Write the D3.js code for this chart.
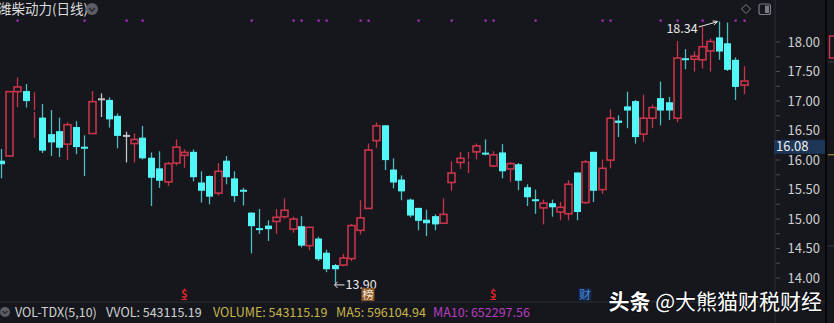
<!DOCTYPE html>
<html><head><meta charset="utf-8">
<script src="https://cdn.jsdelivr.net/npm/d3@7/dist/d3.min.js"></script>
<style>
html,body{margin:0;padding:0;background:#15171d;overflow:hidden;}
svg{display:block;}
text{font-family:"Noto Sans CJK SC","Noto Sans",sans-serif;}
</style></head>
<body>
<svg id="chart" width="834" height="323"></svg>
<script>
const title = "潍柴动力(日线)";
const openP = [15.98,16.06,17.15,17.16,16.81,16.71,16.43,16.48,16.26,16.55,
16.21,16.44,17.02,17.01,16.74,16.40,16.27,16.37,16.03,15.85,
15.62,15.94,16.07,16.13,15.61,15.72,15.43,15.98,15.68,15.48,
15.10,14.83,14.88,14.95,15.03,14.82,14.87,14.54,14.66,14.42,
14.21,14.21,14.32,14.80,15.17,16.32,16.58,15.83,15.66,15.32,
15.18,14.98,15.04,14.92,15.61,15.95,15.98,16.13,16.11,15.89,
16.12,15.84,15.92,15.53,15.32,15.18,15.26,15.11,15.08,15.78,
15.27,16.13,15.49,15.99,16.66,16.90,16.99,16.43,16.70,17.04,
16.97,16.70,17.71,17.70,17.69,17.84,18.07,17.97,17.69,17.26];
const closeP = [15.92,17.15,17.23,16.99,16.83,16.15,16.29,16.20,16.59,16.21,
16.19,16.98,17.02,16.68,16.40,16.40,16.34,16.02,15.69,15.64,
15.93,16.21,16.12,15.70,15.47,15.37,15.80,15.70,15.38,15.46,
14.87,14.81,14.82,15.02,15.14,14.99,14.54,14.85,14.31,14.14,
14.14,14.33,14.88,15.01,16.16,16.57,15.99,15.61,15.46,15.05,
14.96,14.92,14.90,15.07,15.77,16.02,16.00,16.23,16.09,16.08,
15.80,15.93,15.64,15.36,15.30,15.26,15.19,15.19,15.58,15.11,
15.96,15.47,15.85,16.70,16.62,16.83,16.38,16.70,16.88,16.83,
16.83,17.72,17.69,17.75,17.91,18.00,17.83,17.52,17.23,17.33];
const highP = [16.18,17.16,17.39,17.28,17.14,16.94,16.84,16.71,16.63,16.65,
16.41,17.16,17.12,17.05,16.78,16.47,16.44,16.57,16.12,16.14,
15.96,16.34,16.17,16.17,15.80,15.73,15.94,16.06,15.80,15.52,
15.10,15.16,14.97,15.16,15.34,15.03,15.04,14.86,14.69,14.47,
14.23,14.40,14.91,15.31,16.27,16.63,16.58,16.02,15.73,15.34,
15.18,15.15,15.07,15.34,15.97,16.13,16.13,16.27,16.34,16.14,
16.26,15.96,15.94,15.58,15.49,15.32,15.32,15.28,15.65,15.78,
15.99,16.13,16.00,16.85,16.75,17.15,17.01,17.10,16.93,17.32,
17.06,18.01,17.87,17.83,18.25,18.05,18.34,18.32,17.73,17.58];
const lowP = [15.68,16.05,16.89,16.88,16.37,16.11,16.06,16.04,15.99,16.09,
15.72,16.43,16.72,16.54,16.19,15.95,15.95,16.00,15.21,15.52,
15.55,15.90,15.86,15.63,15.27,15.24,15.39,15.58,15.28,15.22,
14.41,14.74,14.62,14.74,15.00,14.76,14.51,14.46,14.28,14.09,
13.90,14.19,14.28,14.73,15.16,16.20,15.82,15.51,15.31,15.02,
14.80,14.70,14.80,14.91,15.47,15.84,15.77,16.00,16.07,15.87,
15.68,15.62,15.48,15.21,15.08,14.90,15.03,14.97,14.97,14.97,
15.25,15.28,15.42,15.85,16.38,16.53,16.27,16.30,16.53,16.58,
16.67,16.63,17.53,17.49,17.54,17.49,17.69,17.50,17.01,17.11];
const signalDots = [2,10,15,17,30,35,36,38,39,43,44,50,54,58,59,64,72,73,79,81,84,88,89];
const tickVals = [14,14.25,14.5,14.75,15,15.25,15.5,15.75,16,16.25,16.5,16.75,17,17.25,17.5,17.75,18];
const currentPrice = 16.08;
const highIdx = 86, lowIdx = 40;
const dollarIdx = [22, 59];
const bangIdx = 44;
const caiIdx = 70;
const volLabels = [
  {t:"VOL-TDX(5,10)", c:"#d2d2d2"},
  {t:"VVOL: 543115.19", c:"#d2d2d2"},
  {t:"VOLUME: 543115.19", c:"#c9b44a"},
  {t:"MA5: 596104.94", c:"#c9b44a"},
  {t:"MA10: 652297.56", c:"#b83cc0"}
];
const volX = [15,106,213,336,433];
const watermarkBold = "头条";
const watermarkRest = " @大熊猫财税财经";

const BG = "#15171d", RED = "#c8344a", CYAN = "#52f6f6", CYANW = "#4cbcc2", GRAY = "#c4c4c4";
const svg = d3.select("#chart");
svg.append("rect").attr("width",834).attr("height",323).attr("fill",BG);

const n = openP.length;
const x = d3.scaleLinear().domain([0, n-1]).range([0.5, 743.7]);
const y = d3.scaleLinear().domain([14, 18]).range([277.5, 41.5]);
const bw = 7;

const data = d3.range(n).map(i => ({i, o:openP[i], c:closeP[i], h:highP[i], l:lowP[i]}));
const col = d => d.c > d.o ? RED : (d.c < d.o ? CYAN : GRAY);
const wcol = d => d.c > d.o ? RED : (d.c < d.o ? CYANW : GRAY);

const plot = svg.append("g").attr("clip-path","url(#clipP)");
svg.append("clipPath").attr("id","clipP").append("rect").attr("x",0).attr("y",0).attr("width",774).attr("height",300);

// wicks
plot.selectAll("line.wick").data(data).join("line")
  .attr("x1", d=>Math.round(x(d.i))+0.5).attr("x2", d=>Math.round(x(d.i))+0.5)
  .attr("y1", d=>y(d.h)).attr("y2", d=>y(d.l))
  .attr("stroke", wcol).attr("stroke-width",1.3);

// bodies
plot.selectAll("rect.body").data(data).join("rect")
  .attr("x", d=>Math.round(x(d.i))+0.5-bw/2)
  .attr("y", d=>{const t=y(Math.max(d.o,d.c)), b=y(Math.min(d.o,d.c)); return (b-t)<2 ? (t+b)/2-1 : t;})
  .attr("width", bw)
  .attr("height", d=>Math.max(2, y(Math.min(d.o,d.c))-y(Math.max(d.o,d.c))))
  .attr("fill", d=> d.c > d.o ? BG : col(d))
  .attr("stroke", d=> d.c > d.o && Math.abs(y(d.o)-y(d.c))>=2 ? RED : "none")
  .attr("stroke-width",1.6);

// signal dots
svg.selectAll("rect.dot").data(signalDots).join("rect")
  .attr("x", i=>Math.round(x(i))-0.5).attr("y",19.5).attr("width",2.2).attr("height",2.2)
  .attr("fill","#b02fc2");

// right axis
svg.append("line").attr("x1",775).attr("x2",775).attr("y1",0).attr("y2",323).attr("stroke","#2b2e36").attr("stroke-width",1);
const ax = svg.append("g").attr("transform","translate(775,0)")
  .call(d3.axisRight(y).tickValues(tickVals).tickSize(5)
    .tickFormat(v => (Math.round(v*100)%50===0) ? v.toFixed(2) : ""));
ax.select(".domain").remove();
ax.selectAll(".tick line").attr("stroke","#4a4d55").attr("x1",1);
ax.selectAll(".tick text").attr("x",45).attr("text-anchor","end").attr("fill","#cfcfcf")
  .attr("font-size",13).attr("dy","0.36em");

// current price box
const cpY = y(currentPrice);
svg.append("rect").attr("x",774).attr("y",cpY-15).attr("width",51).attr("height",14).attr("fill","#1d3657");
svg.append("text").attr("x",776).attr("y",cpY-8).attr("dy","0.36em").attr("fill","#f0f0f0").attr("font-size",13).text(currentPrice.toFixed(2));
svg.append("line").attr("x1",828).attr("x2",834).attr("y1",cpY).attr("y2",cpY).attr("stroke","#c9a23a").attr("stroke-width",1);

// right border & neighbour panel hints
svg.append("rect").attr("x",825).attr("y",0).attr("width",2).attr("height",323).attr("fill","#050608");
svg.append("rect").attr("x",829.5).attr("y",36).attr("width",6).attr("height",22).attr("fill","none").attr("stroke",RED).attr("stroke-width",1.5);
svg.append("line").attr("x1",828).attr("x2",834).attr("y1",62).attr("y2",62).attr("stroke","#3a3d45");
svg.append("line").attr("x1",828).attr("x2",834).attr("y1",246).attr("y2",246).attr("stroke","#3a3d45");

// top right icons
svg.append("path").attr("d","M746,4.5 L750.5,9 L746,13.5 L741.5,9 Z").attr("fill","none").attr("stroke","#7a7d85").attr("stroke-width",1);
svg.append("rect").attr("x",759).attr("y",4).attr("width",11.5).attr("height",10.5).attr("rx",2).attr("fill","none").attr("stroke","#7a7d85").attr("stroke-width",1.2);
svg.append("rect").attr("x",765).attr("y",5.5).attr("width",4).attr("height",7.5).attr("fill","#7a7d85");

// title
svg.append("text").attr("x",-2).attr("y",9.5).attr("dy","0.36em").attr("fill","#dcdcdc").attr("font-size",13.5).text(title);
svg.append("circle").attr("cx",92).attr("cy",9).attr("r",6).attr("fill","#5b5e66");
svg.append("path").attr("d","M89,8 L92,11 L95,8").attr("fill","none").attr("stroke","#2a2c32").attr("stroke-width",1.6);

// high annotation
const hx = x(highIdx), hy = y(highP[highIdx]);
svg.append("line").attr("x1",hx-20).attr("y1",hy+5.5).attr("x2",hx-2).attr("y2",hy+0.5).attr("stroke","#e8e8e8").attr("stroke-width",1);
svg.append("path").attr("d",`M${hx-1},${hy} L${hx-6},${hy-0.5} M${hx-1},${hy} L${hx-4.5},${hy+3.5}`).attr("stroke","#e8e8e8").attr("stroke-width",1).attr("fill","none");
svg.append("text").attr("x",hx-21).attr("y",hy+7).attr("dy","0.36em").attr("text-anchor","end").attr("fill","#e8e8e8").attr("font-size",12.5).text(highP[highIdx].toFixed(2));

// low annotation
const lx = x(lowIdx), ly = y(lowP[lowIdx]) + 1.5;
svg.append("line").attr("x1",lx).attr("x2",lx+10).attr("y1",ly).attr("y2",ly).attr("stroke","#e8e8e8").attr("stroke-width",1);
svg.append("path").attr("d",`M${lx+3},${ly-3} L${lx},${ly} L${lx+3},${ly+3}`).attr("stroke","#e8e8e8").attr("stroke-width",1).attr("fill","none");
svg.append("text").attr("x",lx+11).attr("y",ly).attr("dy","0.36em").attr("fill","#e8e8e8").attr("font-size",12.5).text(lowP[lowIdx].toFixed(2));

// event markers
dollarIdx.forEach(i=>{
  svg.append("text").attr("x",x(i)).attr("y",294).attr("dy","0.36em").attr("text-anchor","middle")
    .attr("fill","#e0262a").attr("font-size",11).attr("font-weight","bold").text("$");
  svg.append("line").attr("x1",x(i)-3).attr("x2",x(i)+3).attr("y1",299.5).attr("y2",299.5).attr("stroke","#e0262a").attr("stroke-width",1);
});
svg.append("rect").attr("x",x(bangIdx)-6.5).attr("y",288).attr("width",13).attr("height",13).attr("fill","#8a5524");
svg.append("text").attr("x",x(bangIdx)).attr("y",294.5).attr("dy","0.36em").attr("text-anchor","middle").attr("fill","#f2e6d8").attr("font-size",11.5).text("榜");
svg.append("rect").attr("x",x(caiIdx)-6.5).attr("y",288.5).attr("width",13).attr("height",12).attr("fill","#16284a");
svg.append("text").attr("x",x(caiIdx)).attr("y",294.5).attr("dy","0.36em").attr("text-anchor","middle").attr("fill","#4a8ee6").attr("font-size",11.5).text("财");

// bottom separator and volume labels
svg.append("line").attr("x1",0).attr("x2",825).attr("y1",302).attr("y2",302).attr("stroke","#2c2f37").attr("stroke-width",1);
svg.append("circle").attr("cx",5).attr("cy",312).attr("r",5).attr("fill","#5b5e66");
svg.append("path").attr("d","M2.5,311 L5,313.5 L7.5,311").attr("fill","none").attr("stroke","#2a2c32").attr("stroke-width",1.4);
volLabels.forEach((v,k)=>{
  svg.append("text").attr("x",volX[k]).attr("y",312).attr("dy","0.36em").attr("fill",v.c).attr("font-size",12.5).text(v.t);
});

// watermark
const wm = svg.append("text").attr("x",822).attr("y",301).attr("dy","0.36em").attr("text-anchor","end")
  .attr("fill","#ffffff").attr("font-size",21)
  .style("paint-order","stroke").attr("stroke","rgba(0,0,0,0.35)").attr("stroke-width",2);
wm.append("tspan").attr("font-weight","bold").text(watermarkBold);
wm.append("tspan").attr("font-weight",400).text(watermarkRest);
</script>
</body></html>
